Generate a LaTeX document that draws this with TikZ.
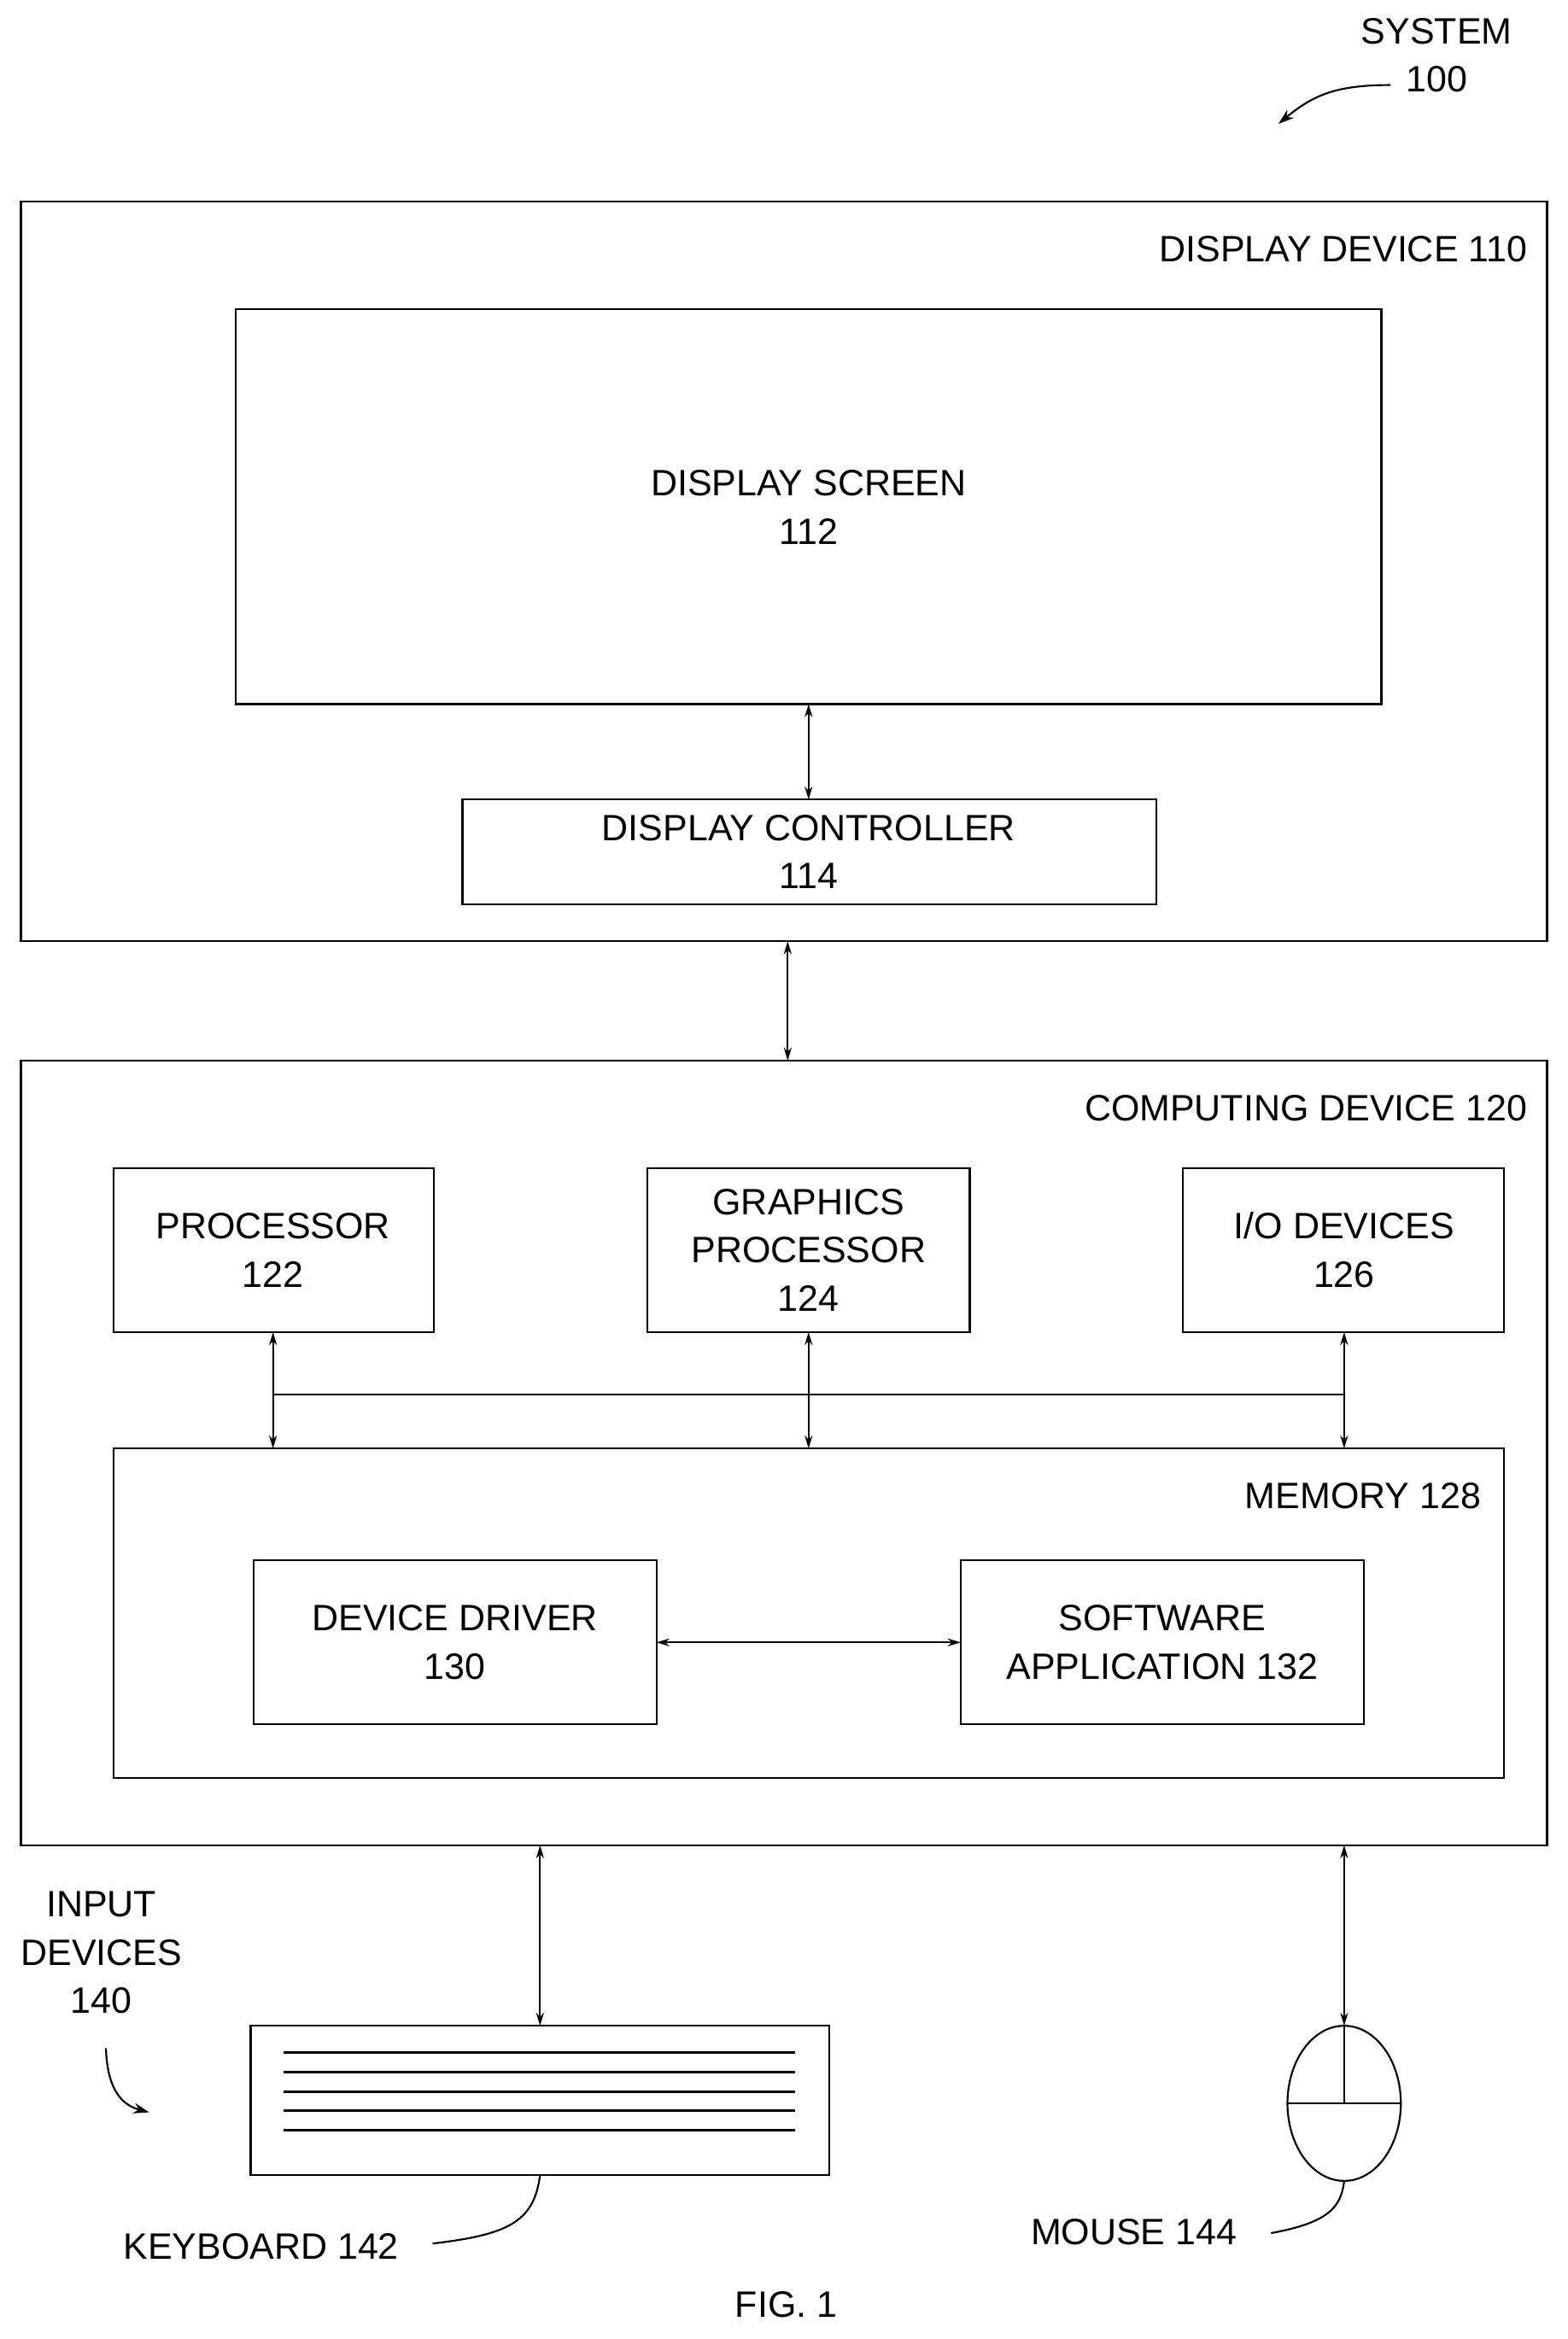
\documentclass[tikz,border=0pt]{standalone}
\usepackage{fontspec}
\setmainfont{Liberation Sans}
\usetikzlibrary{arrows.meta}
\begin{document}
\begin{tikzpicture}[x=0.02cm,y=-0.02cm,
  every node/.style={font=\fontsize{14}{18.5}\selectfont,align=center,inner sep=0},
  box/.style={draw,line width=0.7pt},
  lnk/.style={line width=0.6pt,{Stealth[length=5pt,width=3pt]}-{Stealth[length=5pt,width=3pt]}},
  lead/.style={line width=0.7pt}]
\useasboundingbox (0,0) rectangle (1051,1568);
% display device
\draw[box] (14,135) rectangle (1037,631);
\node[anchor=east] (ldd) at (1024,167) {DISPLAY DEVICE 110};
\draw[box] (158,207) rectangle (926,472);
\node (ds) at (542,340) {DISPLAY SCREEN\\112};
\draw[box] (310,536) rectangle (775,606);
\node (dc) at (542,571) {DISPLAY CONTROLLER\\114};
\coordinate (a1) at (542,472); \coordinate (a2) at (542,536);
\draw[lnk] (a1) -- (a2);
\coordinate (b1) at (528,631); \coordinate (b2) at (528,711);
\draw[lnk] (b1) -- (b2);
% computing device
\draw[box] (14,711) rectangle (1037,1237);
\node[anchor=east] (lcd) at (1024,743) {COMPUTING DEVICE 120};
\draw[box] (76,783) rectangle (291,893);
\node (p) at (183,838) {PROCESSOR\\122};
\draw[box] (434,783) rectangle (650,893);
\node (g) at (542,838) {GRAPHICS\\PROCESSOR\\124};
\draw[box] (793,783) rectangle (1008,893);
\node (io) at (901,838) {I/O DEVICES\\126};
\coordinate (bl) at (183,935); \coordinate (br) at (901,935);
\draw[line width=0.6pt] (bl) -- (br);
\foreach \x in {183,542,901}{
  \coordinate (t\x) at (\x,893); \coordinate (m\x) at (\x,971);
  \draw[lnk] (t\x) -- (m\x);}
\draw[box] (76,971) rectangle (1008,1192);
\node[anchor=east] (lm) at (993,1003) {MEMORY 128};
\draw[box] (170,1046) rectangle (440,1156);
\node (dd) at (305,1101) {DEVICE DRIVER\\130};
\draw[box] (644,1046) rectangle (914,1156);
\node (sa) at (779,1101) {SOFTWARE\\APPLICATION 132};
\coordinate (c1) at (440,1101); \coordinate (c2) at (644,1101);
\draw[lnk] (c1) -- (c2);
% input devices
\coordinate (k1) at (362,1237); \coordinate (k2) at (362,1358);
\draw[lnk] (k1) -- (k2);
\draw[box] (168,1358) rectangle (556,1458);
\foreach \y in {1376,1389,1402,1415,1428} \draw[line width=1pt] (190,\y) -- (533,\y);
\coordinate (mo1) at (901,1237); \coordinate (mo2) at (901,1358);
\draw[lnk] (mo1) -- (mo2);
\draw[box] (901,1410) ellipse [x radius=38, y radius=52];
\draw[line width=0.8pt] (863,1410) -- (939,1410);
\draw[line width=0.7pt] (901,1358) -- (901,1410);
\node (kl) at (175,1506) {KEYBOARD 142};
\draw[lead] (290,1504) .. controls (340,1498) and (358,1490) .. (362,1458);
\node (ml) at (760,1496) {MOUSE 144};
\draw[lead] (852,1497) .. controls (890,1490) and (899,1480) .. (901,1462);
\node (id) at (68,1309) {INPUT\\DEVICES\\140};
\draw[lead,-{Stealth[length=6pt,width=4pt]}] (71,1373) .. controls (72,1405) and (85,1412) .. (100,1416);
\node (sys) at (963,37) {SYSTEM\\100};
\draw[lead,-{Stealth[length=6pt,width=4pt]}] (932,57) .. controls (895,57) and (880,64) .. (857,83);
\node (fig) at (527,1545) {FIG. 1};
\end{tikzpicture}
\end{document}
